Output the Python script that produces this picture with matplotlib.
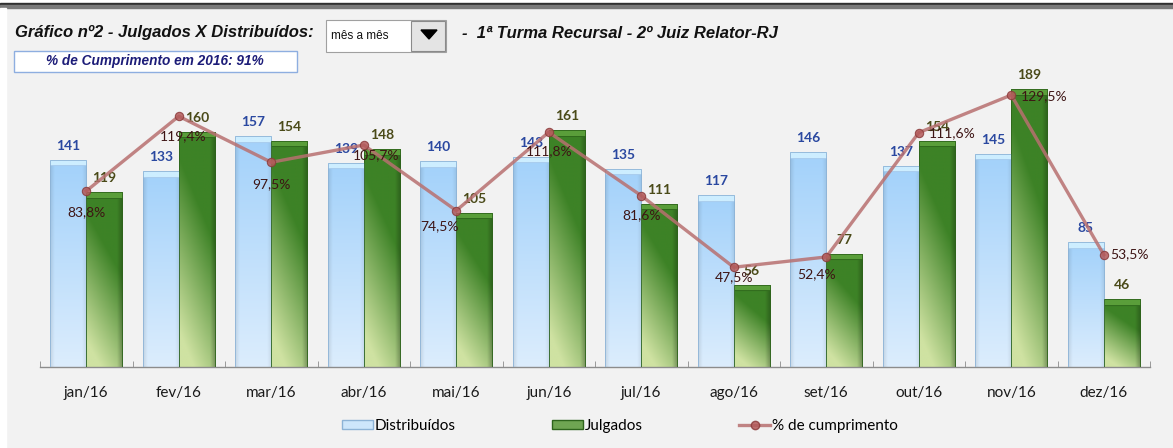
#!/usr/bin/env python3
"""Gráfico nº2 - Julgados X Distribuídos (1ª Turma Recursal - 2º Juiz Relator-RJ)."""

import matplotlib
matplotlib.use("Agg")
import matplotlib.pyplot as plt
import numpy as np
from matplotlib.colors import to_rgb
from matplotlib.lines import Line2D
from matplotlib.patches import Patch, Polygon, Rectangle

months = ["jan/16", "fev/16", "mar/16", "abr/16", "mai/16", "jun/16",
          "jul/16", "ago/16", "set/16", "out/16", "nov/16", "dez/16"]
distribuidos = [141, 133, 157, 139, 140, 143, 135, 117, 146, 137, 145, 85]
julgados = [119, 160, 154, 148, 105, 161, 111, 56, 77, 154, 189, 46]
cumprimento = [83.8, 119.4, 97.5, 105.7, 74.5, 111.8, 81.6, 47.5, 52.4, 111.6, 129.5, 53.5]

title_left = "Gráfico nº2 - Julgados X Distribuídos:"
title_right = "-  1ª Turma Recursal - 2º Juiz Relator-RJ"
combo_text = "mês a mês"
summary_text = "% de Cumprimento em 2016: 91%"

# where each % label sits relative to its marker (pixels)
pct_offsets = [(0, -21), (4, -20), (0, -22), (12, -10), (-17, -16), (0, -19),
               (0, -20), (0, -10), (-10, -17), (33, -1), (33, -1), (26, 0)]

W, H = 1173, 448
BG = "#f2f2f2"
FONT = "Lato"
PX_PER_UNIT = 294 / 200.0


def fx(px):
    return px / W


def fy(py):
    return 1 - py / H


def gradient_img(kind, height):
    rows = max(int(height * PX_PER_UNIT), 12)
    cols = 40
    u = np.linspace(0, 1, cols)[None, :]
    v = np.linspace(0, 1, rows)[:, None]  # 0 top, 1 bottom
    if kind == "blue":
        top = np.array(to_rgb("#a2d1fa"))
        bottom = np.array(to_rgb("#dcedfd"))
        img = top[None, None, :] * (1 - v[:, :, None]) + bottom[None, None, :] * v[:, :, None]
        # darker rims left and right
        rim = 1 - 0.10 * np.clip((0.12 - u) / 0.12, 0, 1) - 0.08 * np.clip((u - 0.88) / 0.12, 0, 1)
        img = img * rim[:, :, None]
        img[:6] = to_rgb("#cdeeff")
        img[6] = to_rgb("#a9cdee")
    else:
        dark = np.array(to_rgb("#3d8226"))
        light = np.array(to_rgb("#cfe2a2"))
        f = np.clip(v * 1.35 - 0.15 - 0.5 * u, 0, 1)
        img = dark[None, None, :] * (1 - f[:, :, None]) + light[None, None, :] * f[:, :, None]
        shade = 1 - 0.25 * np.clip((u - 0.85) / 0.15, 0, 1)
        img = img * shade[:, :, None]
        img[:6] = to_rgb("#5a9e3a")
        img[6] = to_rgb("#2f6a1c")
    return np.clip(img, 0, 1)


fig = plt.figure(figsize=(W / 100, H / 100), dpi=100, facecolor=BG)

# window frame on top and left
fig.patches.append(Rectangle((0, fy(3)), 1, 3 / H, transform=fig.transFigure, color="white", zorder=0))
fig.patches.append(Rectangle((0, fy(5)), 1, 2 / H, transform=fig.transFigure, color="#303030", zorder=0))
fig.patches.append(Rectangle((0, fy(8)), 1, 3 / H, transform=fig.transFigure, color="#7a7a7a", zorder=0))
fig.patches.append(Rectangle((0, 0), 6 / W, fy(8), transform=fig.transFigure, color="white", zorder=0))

ax = fig.add_axes([fx(40), fy(367), fx(1110), 294 / H])
ax.set_facecolor("none")
x = np.arange(len(months))
w = 0.39

bars_d = ax.bar(x - w / 2, distribuidos, w, facecolor="none", edgecolor="#8db3d6", linewidth=0.6, zorder=3)
bars_j = ax.bar(x + w / 2, julgados, w, facecolor="none", edgecolor="#2e641c", linewidth=0.6, zorder=3)

for bars, kind in ((bars_d, "blue"), (bars_j, "green")):
    for b in bars:
        bx, bw, bh = b.get_x(), b.get_width(), b.get_height()
        im = ax.imshow(gradient_img(kind, bh), extent=(bx, bx + bw, 0, bh), origin="upper",
                       aspect="auto", interpolation="bilinear", zorder=2)
        im.set_clip_path(b)

for b, v in zip(bars_d, distribuidos):
    ax.annotate(str(v), (b.get_x() + b.get_width() / 2, v), xytext=(0, 14), textcoords="offset pixels",
                ha="center", va="center", fontsize=10, fontweight="bold", color="#2a48a0",
                family=FONT, zorder=5)
for b, v in zip(bars_j, julgados):
    ax.annotate(str(v), (b.get_x() + b.get_width() / 2, v), xytext=(0, 14), textcoords="offset pixels",
                ha="center", va="center", fontsize=10, fontweight="bold", color="#4a4a18",
                family=FONT, zorder=5)

ax.set_xlim(-0.5, len(months) - 0.5)
ax.set_ylim(0, 200)
for s in ("top", "right", "left"):
    ax.spines[s].set_visible(False)
ax.spines["bottom"].set_color("#8c8c8c")
ax.spines["bottom"].set_linewidth(1.0)
ax.set_yticks([])
ax.set_xticks(x)
ax.set_xticklabels(months, family=FONT, fontsize=11, color="#1a1a1a")
ax.tick_params(axis="x", length=0, pad=14)
ax.set_xticks(np.arange(-0.5, len(months)), minor=True)
ax.tick_params(axis="x", which="minor", direction="in", length=4, color="#8c8c8c")

ax2 = ax.twinx()
ax2.set_ylim(0, 140)
ax2.set_yticks([])
for s in ax2.spines.values():
    s.set_visible(False)
ax2.plot(x, cumprimento, color="#b87070", alpha=0.85, lw=2.4, marker="o", ms=6,
         mfc="#b35a5a", mec="#8c3c3c", mew=0.8, zorder=4)
for xi, p, off in zip(x, cumprimento, pct_offsets):
    ax2.annotate(f"{p:.1f}%".replace(".", ","), (xi, p), xytext=off, textcoords="offset pixels",
                 ha="center", va="center", fontsize=10, color="#3d1414", family=FONT, zorder=6)

# header
fig.text(fx(15), fy(33), title_left, fontsize=12, fontweight="bold", style="italic",
         family="Liberation Sans", color="#111111", va="center", ha="left")
fig.text(fx(462), fy(33), title_right, fontsize=12, fontweight="bold", style="italic",
         family="Liberation Sans", color="#111111", va="center", ha="left")

fig.patches.append(Rectangle((fx(326), fy(52)), fx(120), 32 / H, transform=fig.transFigure,
                             facecolor="white", edgecolor="#a0a0a0", lw=0.8, zorder=1))
fig.patches.append(Rectangle((fx(411), fy(51)), fx(34), 30 / H, transform=fig.transFigure,
                             facecolor="#e4e4e4", edgecolor="#8a8a8a", lw=0.8, zorder=2))
fig.patches.append(Polygon([(fx(421), fy(30)), (fx(437), fy(30)), (fx(429), fy(39))],
                           closed=True, transform=fig.transFigure, color="black", zorder=3))
fig.text(fx(331), fy(36), combo_text, fontsize=8.5, family="Liberation Sans", color="#111111",
         va="center", ha="left")

fig.patches.append(Rectangle((fx(14), fy(72)), fx(283), 21 / H, transform=fig.transFigure,
                             facecolor="white", edgecolor="#8eaee0", lw=1.0, zorder=1))
fig.text(fx(155), fy(61.5), summary_text, fontsize=9.8, fontweight="bold", style="italic",
         family="Liberation Sans", color="#1c1c78", va="center", ha="center", zorder=2)

handles = [
    Patch(facecolor="#cde6fb", edgecolor="#8db3d6", label="Distribuídos"),
    Patch(facecolor="#6fa552", edgecolor="#2e641c", label="Julgados"),
    Line2D([], [], color="#b87070", alpha=0.85, lw=2.4, marker="o", ms=6, mfc="#b35a5a",
           mec="#8c3c3c", label="% de cumprimento"),
]
fig.legend(handles=handles, loc="center", bbox_to_anchor=(fx(620), fy(426)), ncol=3, frameon=False,
           prop={"family": FONT, "size": 11}, handlelength=2.0, handleheight=0.5,
           handletextpad=0.15, columnspacing=6.3)

fig.savefig("out.png", dpi=100, facecolor=BG)
